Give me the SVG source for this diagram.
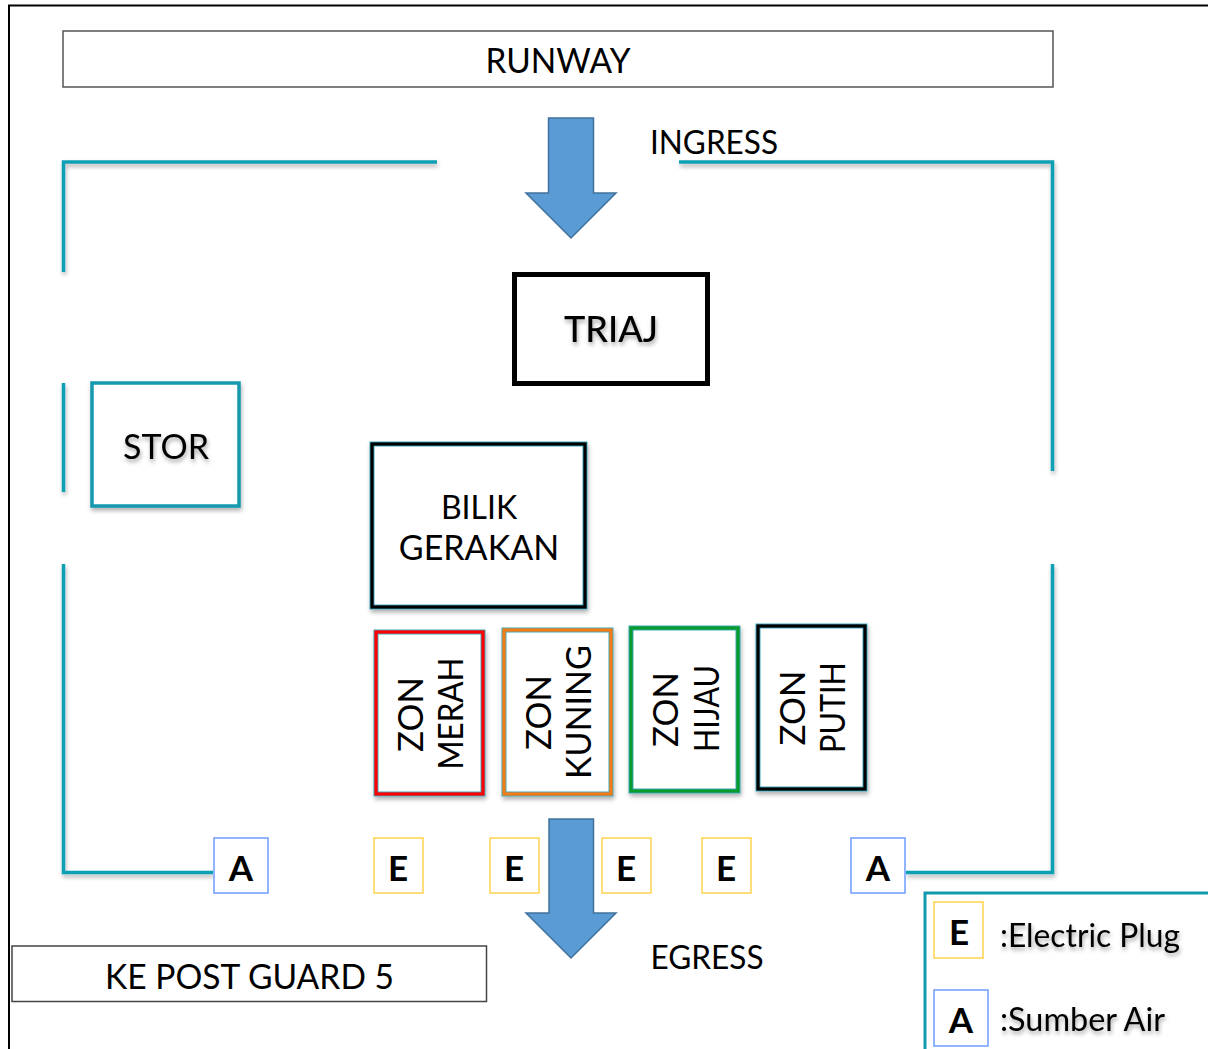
<svg xmlns="http://www.w3.org/2000/svg" width="1208" height="1049" viewBox="0 0 1208 1049">
<style>
text{font-family:"Lato","Open Sans",sans-serif;fill:#000;text-anchor:middle}
.t{font-size:34px}
.n{font-size:32px}
.z{font-size:34px}
.b{font-size:36px;font-weight:500}
.k{font-size:35px;font-weight:700}
.wall{fill:none;stroke:#0e9fb3;stroke-width:3.5;stroke-linejoin:miter;filter:url(#wsh)}
.arrow{fill:#5b9bd5;stroke:#41719c;stroke-width:1.5}
.base{fill:#fff;stroke:#3fa9bd;stroke-width:5;filter:url(#sh)}
.zone{fill:none;stroke-width:3.2}
.E{fill:#fff;stroke:#ffd24d;stroke-width:1.5}
.Ab{fill:#fff;stroke:#6d9eff;stroke-width:1.5}
.ts{filter:url(#tsh)}
</style>
<defs>
<filter id="wsh" filterUnits="userSpaceOnUse" x="0" y="0" width="1208" height="1049"><feDropShadow dx="1" dy="3" stdDeviation="2" flood-color="#000" flood-opacity=".3"/></filter>
<filter id="sh" x="-20%" y="-20%" width="140%" height="140%"><feDropShadow dx="1" dy="3" stdDeviation="2" flood-color="#000" flood-opacity=".3"/></filter>
<filter id="tsh" x="-20%" y="-20%" width="140%" height="150%"><feDropShadow dx="1" dy="3" stdDeviation="2" flood-color="#000" flood-opacity=".35"/></filter>
</defs>
<rect width="1208" height="1049" fill="#fff"/>
<path d="M9 1049V5.500H1208" fill="none" stroke="#000" stroke-width="2"/>
<g id="connectors">
<path class="wall" d="M437 162H63.500V272"/>
<path class="wall" d="M679 162H1052.500V471"/>
<path class="wall" d="M63.500 383V492"/>
<path class="wall" d="M63.500 564V872.500H213"/>
<path class="wall" d="M906 872.500H1052.500V564"/>
</g>
<g id="runway"><rect x="63" y="31" width="990" height="56" fill="#fff" stroke="#555" stroke-width="1.500"/><text class="t" x="558" y="73" textLength="145" lengthAdjust="spacingAndGlyphs">RUNWAY</text></g>
<g id="ingress"><path class="arrow" d="M548.500 118H593.500V193H616L571 238L526 193H548.500Z"/><text class="n" x="714" y="154" textLength="128" lengthAdjust="spacingAndGlyphs">INGRESS</text></g>
<g id="triaj"><rect x="514.500" y="274.500" width="193" height="109" fill="#fff" stroke="#000" stroke-width="5"/><text class="b ts" x="611" y="342">TRIAJ</text></g>
<g id="stor"><rect x="92" y="383" width="147" height="123" fill="#fff" stroke="#1399ae" stroke-width="3.500" filter="url(#sh)"/><text class="t ts" x="166" y="459">STOR</text></g>
<g id="bilik"><rect x="372" y="444" width="213" height="163" class="base"/><rect x="372" y="444" width="213" height="163" class="zone" stroke="#000"/><text class="n" x="479" y="519">BILIK</text><text class="t" x="479" y="560">GERAKAN</text></g>
<g id="merah"><rect x="376" y="632" width="107" height="162" class="base"/><rect x="376" y="632" width="107" height="162" class="zone" stroke="#f00"/><text class="z" transform="translate(423 714.500) rotate(-90)" textLength="75" lengthAdjust="spacingAndGlyphs">ZON</text><text class="z" transform="translate(463 713.500) rotate(-90)" textLength="112" lengthAdjust="spacingAndGlyphs">MERAH</text></g>
<g id="kuning"><rect x="504" y="630" width="107" height="164" class="base"/><rect x="504" y="630" width="107" height="164" class="zone" stroke="#f57c14"/><text class="z" transform="translate(551 712.500) rotate(-90)" textLength="75" lengthAdjust="spacingAndGlyphs">ZON</text><text class="z" transform="translate(591 712) rotate(-90)">KUNING</text></g>
<g id="hijau"><rect x="631" y="628" width="107" height="163" class="base"/><rect x="631" y="628" width="107" height="163" class="zone" stroke="#079b2b"/><text class="z" transform="translate(678 709.500) rotate(-90)" textLength="75" lengthAdjust="spacingAndGlyphs">ZON</text><text class="z" transform="translate(719 708.500) rotate(-90)" textLength="87" lengthAdjust="spacingAndGlyphs">HIJAU</text></g>
<g id="putih"><rect x="758" y="626" width="107" height="163" class="base"/><rect x="758" y="626" width="107" height="163" class="zone" stroke="#000"/><text class="z" transform="translate(804.500 708) rotate(-90)" textLength="75" lengthAdjust="spacingAndGlyphs">ZON</text><text class="z" transform="translate(844.500 707.500) rotate(-90)" textLength="91" lengthAdjust="spacingAndGlyphs">PUTIH</text></g>
<g id="a1"><rect x="214" y="838" width="54" height="55" class="Ab"/><text class="k" x="241" y="881">A</text></g>
<g id="e1"><rect x="374" y="838" width="49" height="55" class="E"/><text class="k" x="398" y="881">E</text></g>
<g id="e2"><rect x="490" y="838" width="49" height="55" class="E"/><text class="k" x="514" y="881">E</text></g>
<g id="e3"><rect x="602" y="838" width="49" height="55" class="E"/><text class="k" x="626" y="881">E</text></g>
<g id="e4"><rect x="702" y="838" width="49" height="55" class="E"/><text class="k" x="726" y="881">E</text></g>
<g id="a2"><rect x="851" y="838" width="54" height="55" class="Ab"/><text class="k" x="878" y="881">A</text></g>
<g id="egress"><path class="arrow" d="M549 819H593.500V913H616L571 958L526 913H549Z"/><text class="n" x="707" y="969" textLength="113" lengthAdjust="spacingAndGlyphs">EGRESS</text></g>
<g id="postguard"><rect x="12" y="946" width="474.500" height="55.500" fill="#fff" stroke="#444" stroke-width="1.500"/><text class="t" x="249.500" y="989" textLength="289" lengthAdjust="spacingAndGlyphs">KE POST GUARD 5</text></g>
<g id="legend">
<rect x="925" y="893" width="290" height="170" fill="#fff" stroke="#1399ae" stroke-width="3"/>
<rect x="934" y="902" width="49" height="56" class="E"/><text class="k" x="959" y="945">E</text>
<text class="n ts" x="1090" y="947" textLength="180" lengthAdjust="spacingAndGlyphs">:Electric Plug</text>
<rect x="934" y="990" width="54" height="56" class="Ab"/><text class="k" x="961" y="1033">A</text>
<text class="n ts" x="1082.500" y="1031" textLength="165" lengthAdjust="spacingAndGlyphs">:Sumber Air</text>
</g>
</svg>
